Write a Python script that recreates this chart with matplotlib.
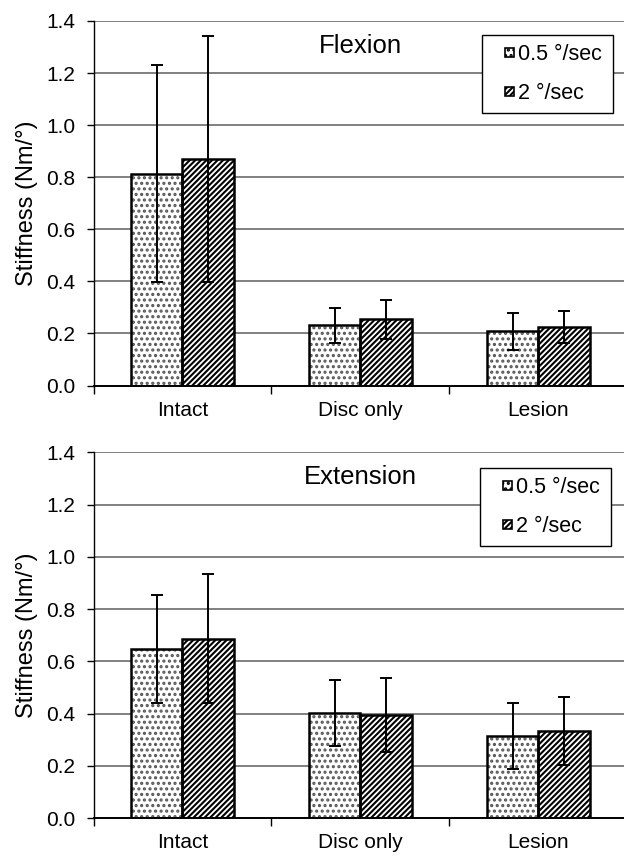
import matplotlib
matplotlib.use("Agg")
import matplotlib.pyplot as plt
from matplotlib.legend_handler import HandlerPatch
from matplotlib.patches import Rectangle
import numpy as np

plt.rcParams['font.family'] = ['Liberation Sans', 'DejaVu Sans']
plt.rcParams['hatch.linewidth'] = 1.5

categories = ["Intact", "Disc only", "Lesion"]
series_names = ["0.5 °/sec", "2 °/sec"]

flex_slow = [0.813, 0.232, 0.209]
flex_slow_err = [0.417, 0.067, 0.071]
flex_fast = [0.870, 0.254, 0.225]
flex_fast_err = [0.474, 0.074, 0.063]

ext_slow = [0.648, 0.401, 0.314]
ext_slow_err = [0.207, 0.127, 0.128]
ext_fast = [0.687, 0.394, 0.334]
ext_fast_err = [0.246, 0.141, 0.131]

yticks = [0.0, 0.2, 0.4, 0.6, 0.8, 1.0, 1.2, 1.4]

W, H = 624, 861
fig = plt.figure(figsize=(W / 100, H / 100), dpi=100)

left = 93.5 / W
width = 534 / W

SQ = 6.6  # legend square size in points


def small_square(legend, orig_handle, xdescent, ydescent, width, height, fontsize):
    return Rectangle((-xdescent + width - SQ, -ydescent + (height - SQ) / 2), SQ, SQ)


def draw(ax, title, slow, slow_err, fast, fast_err, title_y, leg_box):
    x = np.arange(len(categories))
    bw = 0.29
    ax.set_axisbelow(True)
    ax.yaxis.grid(True, color='#808080', linewidth=1.4)
    # dotted bars: gray dots, black outline
    ax.bar(x - bw / 2, slow, bw, color='white', edgecolor='#555555', hatch='...',
           linewidth=0, zorder=2)
    ax.bar(x - bw / 2, slow, bw, fill=False, edgecolor='black',
           linewidth=1.8, zorder=2.1)
    ax.bar(x + bw / 2, fast, bw, color='white', edgecolor='black', hatch='//////',
           linewidth=1.8, zorder=2)
    ax.errorbar(x - bw / 2, slow, yerr=slow_err, fmt='none', ecolor='black',
                elinewidth=1.4, capsize=4, capthick=1.4, zorder=3)
    ax.errorbar(x + bw / 2, fast, yerr=fast_err, fmt='none', ecolor='black',
                elinewidth=1.4, capsize=4, capthick=1.4, zorder=3)
    ax.set_xlim(-0.5, 2.5)
    ax.set_ylim(0, 1.4)
    ax.set_yticks(yticks)
    ax.set_yticklabels([f"{v:.1f}" for v in yticks], fontsize=15)
    ax.set_xticks([-0.5, 0.5, 1.5, 2.5])
    ax.set_xticklabels([])
    ax.set_xticks(x, minor=True)
    ax.set_xticklabels(categories, minor=True, fontsize=15)
    ax.tick_params(axis='x', which='minor', length=0, pad=11)
    ax.tick_params(axis='x', which='major', length=5.5, width=1.0, color='black', direction='out')
    ax.tick_params(axis='y', length=5, width=1.0, color='black', direction='out', pad=8)
    for s in ['top', 'right']:
        ax.spines[s].set_visible(False)
    ax.spines['left'].set_color('black')
    ax.spines['left'].set_linewidth(1.0)
    ax.spines['bottom'].set_color('black')
    ax.spines['bottom'].set_linewidth(1.4)
    ax.set_ylabel("Stiffness (Nm/°)", fontsize=17)
    ax.yaxis.set_label_coords((38 - 93.5) / 534, 0.5)
    fig.text(360 / W, 1 - title_y / H, title, fontsize=18.5, ha='center', va='center')
    # legend proxies
    h1 = Rectangle((0, 0), 1, 1, facecolor='white', edgecolor='black', hatch='...', linewidth=1.2)
    h2 = Rectangle((0, 0), 1, 1, facecolor='white', edgecolor='black', hatch='//////', linewidth=1.2)
    lx0, ly0, lx1, ly1 = leg_box
    leg = ax.legend([h1, h2], series_names, loc='upper left', mode='expand',
                    bbox_to_anchor=(lx0 / W, 1 - ly1 / H, (lx1 - lx0) / W, (ly1 - ly0) / H),
                    bbox_transform=fig.transFigure, borderaxespad=0,
                    fontsize=15.5, frameon=True,
                    fancybox=False, edgecolor='black', handlelength=1.1,
                    handleheight=0.45, handletextpad=0.2, borderpad=0.4,
                    labelspacing=0.85,
                    handler_map={Rectangle: HandlerPatch(patch_func=small_square)})
    leg.get_frame().set_linewidth(1.0)
    leg.get_frame().set_alpha(None)
    leg.get_frame().set_facecolor('white')
    leg.set_zorder(5)


ax1 = fig.add_axes([left, 1 - 385.5 / H, width, 364.5 / H])
draw(ax1, "Flexion", flex_slow, flex_slow_err, flex_fast, flex_fast_err, 46,
     (481.7, 35.3, 612.7, 113.3))
ax2 = fig.add_axes([left, 1 - 818 / H, width, 365.7 / H])
draw(ax2, "Extension", ext_slow, ext_slow_err, ext_fast, ext_fast_err, 477,
     (479.5, 468.3, 610.8, 546))

fig.savefig("out.png", dpi=100)
